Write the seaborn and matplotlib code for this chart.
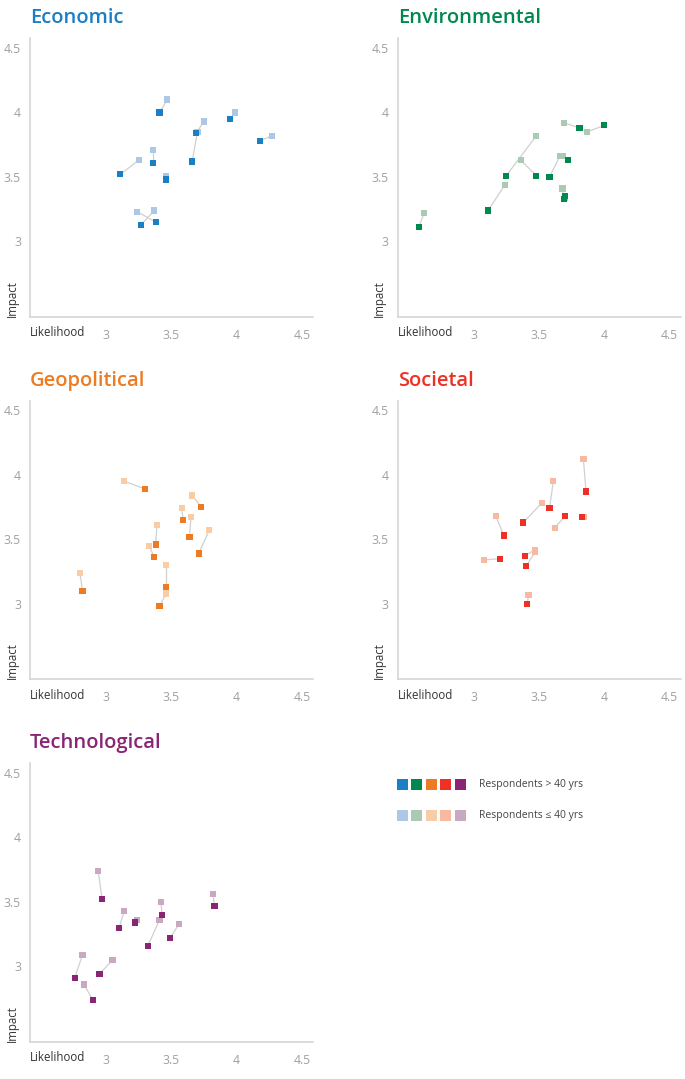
import pandas as pd
import matplotlib
matplotlib.use("Agg")
import matplotlib.pyplot as plt
import seaborn as sns
from matplotlib.patches import Rectangle

# Dữ liệu: mỗi rủi ro có một cặp điểm (> 40 tuổi, <= 40 tuổi)
econ_lik_old = [3.41, 3.95, 4.18, 3.69, 3.66, 3.11, 3.36, 3.46, 3.27, 3.38]
econ_imp_old = [4.00, 3.95, 3.78, 3.84, 3.62, 3.52, 3.61, 3.48, 3.13, 3.15]
econ_lik_young = [3.47, 3.99, 4.27, 3.75, 3.70, 3.25, 3.36, 3.46, 3.37, 3.24]
econ_imp_young = [4.10, 4.00, 3.82, 3.93, 3.85, 3.63, 3.71, 3.51, 3.24, 3.23]

env_lik_old = [2.58, 3.11, 3.25, 3.48, 3.58, 3.72, 3.69, 3.70, 3.81, 4.00]
env_imp_old = [3.11, 3.24, 3.51, 3.51, 3.50, 3.63, 3.33, 3.35, 3.88, 3.90]
env_lik_young = [2.62, 3.24, 3.48, 3.36, 3.66, 3.68, 3.68, 3.70, 3.69, 3.87]
env_imp_young = [3.22, 3.44, 3.82, 3.63, 3.66, 3.66, 3.41, 3.34, 3.92, 3.85]

geo_lik_old = [2.82, 3.30, 3.38, 3.37, 3.46, 3.41, 3.59, 3.64, 3.73, 3.71]
geo_imp_old = [3.10, 3.89, 3.46, 3.36, 3.13, 2.98, 3.65, 3.52, 3.75, 3.39]
geo_lik_young = [2.80, 3.14, 3.39, 3.33, 3.46, 3.46, 3.58, 3.65, 3.66, 3.79]
geo_imp_young = [3.24, 3.95, 3.61, 3.45, 3.30, 3.08, 3.74, 3.67, 3.84, 3.57]

soc_lik_old = [3.20, 3.23, 3.38, 3.58, 3.86, 3.70, 3.83, 3.39, 3.40, 3.41]
soc_imp_old = [3.35, 3.53, 3.63, 3.74, 3.87, 3.68, 3.67, 3.37, 3.29, 3.00]
soc_lik_young = [3.08, 3.17, 3.52, 3.61, 3.84, 3.62, 3.84, 3.47, 3.47, 3.42]
soc_imp_young = [3.34, 3.68, 3.78, 3.95, 4.12, 3.59, 3.67, 3.42, 3.40, 3.07]

tech_lik_old = [2.97, 3.10, 3.22, 3.43, 3.32, 3.49, 3.83, 2.76, 2.95, 2.90]
tech_imp_old = [3.52, 3.30, 3.34, 3.40, 3.16, 3.22, 3.47, 2.91, 2.94, 2.74]
tech_lik_young = [2.94, 3.14, 3.24, 3.42, 3.41, 3.56, 3.82, 2.82, 3.05, 2.83]
tech_imp_young = [3.74, 3.43, 3.36, 3.50, 3.36, 3.33, 3.56, 3.09, 3.05, 2.86]

categories = ["Economic", "Environmental", "Geopolitical", "Societal", "Technological"]
colors_old = ["#1a7fc5", "#00884f", "#ec7b23", "#ee3124", "#8a2475"]
colors_young = ["#adc7e6", "#abcab3", "#f9cda4", "#f9b9a0", "#c9a8c2"]
ticks = [2.5, 3, 3.5, 4, 4.5]
tick_labels = ["", "3", "3.5", "4", "4.5"]
legend_labels = ["Respondents > 40 yrs", "Respondents \u2264 40 yrs"]

panel_data = [
    (econ_lik_old, econ_imp_old, econ_lik_young, econ_imp_young),
    (env_lik_old, env_imp_old, env_lik_young, env_imp_young),
    (geo_lik_old, geo_imp_old, geo_lik_young, geo_imp_young),
    (soc_lik_old, soc_imp_old, soc_lik_young, soc_imp_young),
    (tech_lik_old, tech_imp_old, tech_lik_young, tech_imp_young),
]

sns.set_theme(style="white")
plt.rcParams['font.family'] = ['Open Sans', 'DejaVu Sans']

W, H = 685, 1079
fig = plt.figure(figsize=(W / 100, H / 100), dpi=100)

col_left = [30, 397.7]
row_top = [38.3, 400.7, 763.3]
ax_w, ax_h = 283, 278.5

for i, (name, (xo, yo, xy, yy)) in enumerate(zip(categories, panel_data)):
    left = col_left[i % 2]
    top = row_top[i // 2]
    ax = fig.add_axes([left / W, 1 - (top + ax_h) / H, ax_w / W, ax_h / H])

    # đường nối giữa hai nhóm tuổi
    for a, b, c, d in zip(xo, yo, xy, yy):
        ax.plot([a, c], [b, d], color="#d0d0d0", lw=0.9, zorder=1)

    df = pd.DataFrame({
        "Likelihood": list(xy) + list(xo),
        "Impact": list(yy) + list(yo),
        "group": ["young"] * len(xy) + ["old"] * len(xo),
    })
    sns.scatterplot(data=df, x="Likelihood", y="Impact", hue="group",
                    palette={"old": colors_old[i], "young": colors_young[i]},
                    marker="s", s=20, linewidth=0, legend=False, ax=ax, zorder=3)

    ax.set_xlim(2.418, 4.585)
    ax.set_ylim(2.415, 4.575)
    ax.set_xticks(ticks)
    ax.set_xticklabels(tick_labels)
    ax.set_yticks(ticks)
    ax.set_yticklabels(tick_labels)
    ax.set_xlabel("")
    ax.set_ylabel("")
    sns.despine(ax=ax)
    for sp in ["left", "bottom"]:
        ax.spines[sp].set_color("#d6d6d6")
        ax.spines[sp].set_linewidth(1.2)
    ax.tick_params(axis="both", length=4, width=1, color="#d6d6d6",
                   labelcolor="#a0a0a0", labelsize=8.8)
    ax.tick_params(axis="x", pad=4.5)
    ax.tick_params(axis="y", pad=2.5)

    ax.text(0, -0.058, "Likelihood", transform=ax.transAxes, ha="left",
            va="center", fontsize=8.3, color="#333333")
    ax.text(-0.064, 0, "Impact", transform=ax.transAxes, ha="center",
            va="bottom", rotation=90, fontsize=8.3, color="#333333")
    ax.text(0, 1 + 15 / ax_h, name, transform=ax.transAxes, ha="left",
            va="baseline", fontsize=14.5, fontweight="semibold", color=colors_old[i])

# chú thích
sq = 11
sq_x = [397.3, 411.3, 425.7, 440, 455]
for row, (yc, pal) in enumerate([(784.5, colors_old), (815.5, colors_young)]):
    for x0, c in zip(sq_x, pal):
        fig.add_artist(Rectangle((x0 / W, 1 - (yc + sq / 2) / H), sq / W, sq / H,
                                 transform=fig.transFigure, color=c, lw=0))
    fig.text(479.3 / W, 1 - yc / H, legend_labels[row], ha="left", va="center",
             fontsize=7.5, color="#444444")

fig.savefig("out.png", dpi=100)
plt.close(fig)
